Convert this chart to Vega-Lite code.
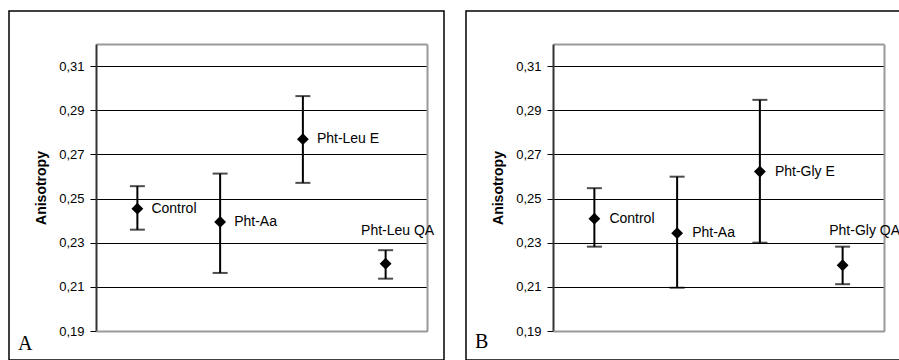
{
  "$schema": "https://vega.github.io/schema/vega-lite/v6.json",
  "background": "white",
  "padding": {"left": 8, "top": 10, "right": 0, "bottom": 0},
  "data": {
    "values": [
      {"panel": "A", "group": "Control", "mean": 0.2454, "lower": 0.2359, "upper": 0.2556},
      {"panel": "A", "group": "Pht-Aa", "mean": 0.2394, "lower": 0.2163, "upper": 0.2613},
      {"panel": "A", "group": "Pht-Leu E", "mean": 0.2769, "lower": 0.2571, "upper": 0.2964},
      {"panel": "A", "group": "Pht-Leu QA", "mean": 0.2205, "lower": 0.2137, "upper": 0.2266},
      {"panel": "B", "group": "Control", "mean": 0.2409, "lower": 0.2282, "upper": 0.2547},
      {"panel": "B", "group": "Pht-Aa", "mean": 0.2343, "lower": 0.2096, "upper": 0.2599},
      {"panel": "B", "group": "Pht-Gly E", "mean": 0.2622, "lower": 0.2300, "upper": 0.2947},
      {"panel": "B", "group": "Pht-Gly QA", "mean": 0.2198, "lower": 0.2112, "upper": 0.2282}
    ]
  },
  "hconcat": [
    {
      "width": 435,
      "height": 349,
      "title": {"text": "A", "orient": "bottom", "anchor": "start", "frame": "group", "font": "Liberation Serif", "fontSize": 20, "fontWeight": "normal", "color": "#000", "baseline": "alphabetic", "offset": -10, "dx": 9},
      "transform": [{"filter": "datum.panel === 'A'"}],
      "resolve": {"axis": {"x": "independent", "y": "independent"}},
      "layer": [
        {
          "mark": {"type": "rule", "color": "#000", "strokeWidth": 2},
          "encoding": {
            "x": {"field": "group", "type": "nominal", "sort": null,
              "scale": {"type": "point", "domain": ["Control", "Pht-Aa", "Pht-Leu E", "Pht-Leu QA"], "range": [87, 418], "padding": 0.5},
              "axis": {"orient": "bottom", "offset": -29, "labels": false, "ticks": false, "title": null, "grid": false, "domainColor": "#9a9a9a", "domainWidth": 2, "zindex": 1}},
            "y": {"field": "lower", "type": "quantitative",
              "scale": {"domain": [0.19, 0.32], "range": [320, 33], "nice": false, "zero": false},
              "axis": {"orient": "left", "offset": -87, "values": [0.19, 0.21, 0.23, 0.25, 0.27, 0.29, 0.31],
                "labelExpr": "replace(format(datum.value, '.2f'), '.', ',')",
                "grid": true, "gridColor": "#000", "gridWidth": 1, "gridOpacity": 1,
                "domainColor": "#333", "domainWidth": 2, "tickColor": "#000", "tickSize": 6, "tickWidth": 1,
                "labelPadding": 6, "labelFont": "Liberation Sans", "labelFontSize": 13, "labelColor": "#000",
                "title": "Anisotropy", "titleFont": "Liberation Sans", "titleFontSize": 14, "titleFontWeight": "bold", "titleColor": "#000", "titlePadding": 10}},
            "y2": {"field": "upper"}
          }
        },
        {
          "mark": {"type": "tick", "orient": "horizontal", "color": "#000", "size": 15, "thickness": 2},
          "encoding": {
            "x": {"field": "group", "type": "nominal", "sort": null, "axis": null},
            "y": {"field": "upper", "type": "quantitative", "axis": null}
          }
        },
        {
          "mark": {"type": "tick", "orient": "horizontal", "color": "#000", "size": 15, "thickness": 2},
          "encoding": {
            "x": {"field": "group", "type": "nominal", "sort": null, "axis": null},
            "y": {"field": "lower", "type": "quantitative", "axis": null}
          }
        },
        {
          "mark": {"type": "point", "shape": "diamond", "filled": true, "color": "#000", "size": 140, "opacity": 1},
          "encoding": {
            "x": {"field": "group", "type": "nominal", "sort": null, "axis": null},
            "y": {"field": "mean", "type": "quantitative", "axis": null}
          }
        },
        {
          "transform": [{"filter": "indexof(datum.group, 'QA') < 0"}],
          "mark": {"type": "text", "align": "left", "baseline": "middle", "dx": 14, "font": "Liberation Sans", "fontSize": 14, "color": "#000"},
          "encoding": {
            "x": {"field": "group", "type": "nominal", "sort": null, "axis": null},
            "y": {"field": "mean", "type": "quantitative", "axis": null},
            "text": {"field": "group"}
          }
        },
        {
          "transform": [{"filter": "indexof(datum.group, 'QA') >= 0"}],
          "mark": {"type": "text", "align": "center", "baseline": "middle", "dx": 12, "dy": -33, "font": "Liberation Sans", "fontSize": 14, "color": "#000"},
          "encoding": {
            "x": {"field": "group", "type": "nominal", "sort": null,
              "axis": {"orient": "top", "offset": -33, "labels": false, "ticks": false, "title": null, "grid": false, "domainColor": "#9a9a9a", "domainWidth": 2}},
            "y": {"field": "mean", "type": "quantitative",
              "axis": {"orient": "right", "offset": -17, "labels": false, "ticks": false, "title": null, "grid": false, "domainColor": "#9a9a9a", "domainWidth": 2}},
            "text": {"field": "group"}
          }
        }
      ]
    },
    {
      "width": 435,
      "height": 349,
      "title": {"text": "B", "orient": "bottom", "anchor": "start", "frame": "group", "font": "Liberation Serif", "fontSize": 20, "fontWeight": "normal", "color": "#000", "baseline": "alphabetic", "offset": -12, "dx": 9},
      "transform": [{"filter": "datum.panel === 'B'"}],
      "resolve": {"axis": {"x": "independent", "y": "independent"}},
      "layer": [
        {
          "mark": {"type": "rule", "color": "#000", "strokeWidth": 2},
          "encoding": {
            "x": {"field": "group", "type": "nominal", "sort": null,
              "scale": {"type": "point", "domain": ["Control", "Pht-Aa", "Pht-Gly E", "Pht-Gly QA"], "range": [87, 418], "padding": 0.5},
              "axis": {"orient": "bottom", "offset": -29, "labels": false, "ticks": false, "title": null, "grid": false, "domainColor": "#9a9a9a", "domainWidth": 2, "zindex": 1}},
            "y": {"field": "lower", "type": "quantitative",
              "scale": {"domain": [0.19, 0.32], "range": [320, 33], "nice": false, "zero": false},
              "axis": {"orient": "left", "offset": -87, "values": [0.19, 0.21, 0.23, 0.25, 0.27, 0.29, 0.31],
                "labelExpr": "replace(format(datum.value, '.2f'), '.', ',')",
                "grid": true, "gridColor": "#000", "gridWidth": 1, "gridOpacity": 1,
                "domainColor": "#333", "domainWidth": 2, "tickColor": "#000", "tickSize": 6, "tickWidth": 1,
                "labelPadding": 6, "labelFont": "Liberation Sans", "labelFontSize": 13, "labelColor": "#000",
                "title": "Anisotropy", "titleFont": "Liberation Sans", "titleFontSize": 14, "titleFontWeight": "bold", "titleColor": "#000", "titlePadding": 10}},
            "y2": {"field": "upper"}
          }
        },
        {
          "mark": {"type": "tick", "orient": "horizontal", "color": "#000", "size": 15, "thickness": 2},
          "encoding": {
            "x": {"field": "group", "type": "nominal", "sort": null, "axis": null},
            "y": {"field": "upper", "type": "quantitative", "axis": null}
          }
        },
        {
          "mark": {"type": "tick", "orient": "horizontal", "color": "#000", "size": 15, "thickness": 2},
          "encoding": {
            "x": {"field": "group", "type": "nominal", "sort": null, "axis": null},
            "y": {"field": "lower", "type": "quantitative", "axis": null}
          }
        },
        {
          "mark": {"type": "point", "shape": "diamond", "filled": true, "color": "#000", "size": 140, "opacity": 1},
          "encoding": {
            "x": {"field": "group", "type": "nominal", "sort": null, "axis": null},
            "y": {"field": "mean", "type": "quantitative", "axis": null}
          }
        },
        {
          "transform": [{"filter": "indexof(datum.group, 'QA') < 0"}],
          "mark": {"type": "text", "align": "left", "baseline": "middle", "dx": 15, "font": "Liberation Sans", "fontSize": 14, "color": "#000"},
          "encoding": {
            "x": {"field": "group", "type": "nominal", "sort": null, "axis": null},
            "y": {"field": "mean", "type": "quantitative", "axis": null},
            "text": {"field": "group"}
          }
        },
        {
          "transform": [{"filter": "indexof(datum.group, 'QA') >= 0"}],
          "mark": {"type": "text", "align": "center", "baseline": "middle", "dx": 22, "dy": -34, "font": "Liberation Sans", "fontSize": 14, "color": "#000"},
          "encoding": {
            "x": {"field": "group", "type": "nominal", "sort": null,
              "axis": {"orient": "top", "offset": -33, "labels": false, "ticks": false, "title": null, "grid": false, "domainColor": "#9a9a9a", "domainWidth": 2}},
            "y": {"field": "mean", "type": "quantitative",
              "axis": {"orient": "right", "offset": -17, "labels": false, "ticks": false, "title": null, "grid": false, "domainColor": "#9a9a9a", "domainWidth": 2}},
            "text": {"field": "group"}
          }
        }
      ]
    }
  ],
  "config": {
    "view": {"stroke": "#000", "strokeWidth": 1.5},
    "font": "Liberation Sans",
    "concat": {"spacing": 20}
  }
}
